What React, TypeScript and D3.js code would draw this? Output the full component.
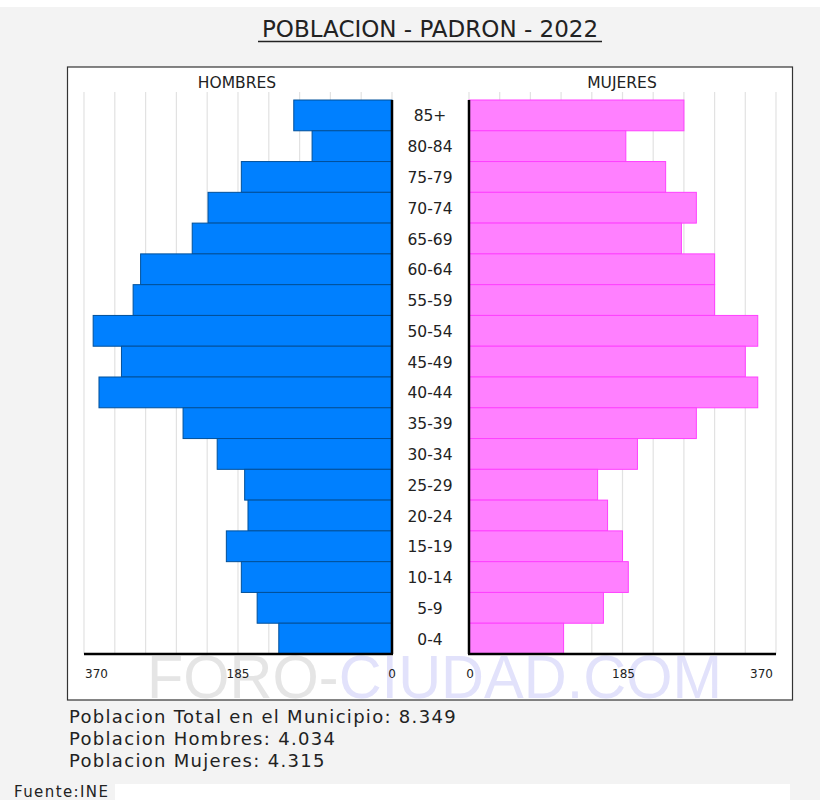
import * as d3 from "d3";

const ages = ["85+", "80-84", "75-79", "70-74", "65-69", "60-64", "55-59", "50-54", "45-49", "40-44", "35-39", "30-34", "25-29", "20-24", "15-19", "10-14", "5-9", "0-4"];
const hombres = [118, 96, 181, 221, 240, 302, 311, 359, 325, 352, 251, 210, 177, 173, 199, 181, 162, 136];
const mujeres = [259, 189, 237, 274, 256, 296, 296, 348, 333, 348, 274, 203, 155, 167, 185, 192, 162, 114];
const axisTicks = [0, 185, 370];
const gridTicks = [0, 37, 74, 111, 148, 185, 222, 259, 296, 333, 370];
const summary = [
  "Poblacion Total en el Municipio: 8.349",
  "Poblacion Hombres: 4.034",
  "Poblacion Mujeres: 4.315",
];

const W = 820;
const H = 800;
const font = "'DejaVu Sans', Verdana, sans-serif";

export default function App() {
  const y = d3.scaleBand().domain(ages).range([100, 654]).padding(0);
  const xM = d3.scaleLinear().domain([0, 370]).range([392, 84]);
  const xW = d3.scaleLinear().domain([0, 370]).range([469, 776]);
  const bottom = 654;

  return (
    <svg width={W} height={H} style={{ position: "absolute", left: 0, top: 0 }}>
      <rect x={0} y={0} width={W} height={H} fill="#f3f3f3" />
      <rect x={0} y={0} width={W} height={7} fill="#ffffff" />

      {/* title */}
      <text x={430} y={37} textAnchor="middle" fontFamily={font} fontSize={23} fill="#222">
        POBLACION - PADRON - 2022
      </text>
      <line x1={258} x2={602} y1={41.5} y2={41.5} stroke="#222" strokeWidth={1.6} />

      {/* chart box */}
      <rect x={67.5} y={67} width={725} height={633} fill="#ffffff" stroke="#333" strokeWidth={1.2} />

      {/* watermark */}
      <text x={147} y={698} fontFamily="'Liberation Sans', Arial, sans-serif" fontSize={62} textLength={575} lengthAdjust="spacingAndGlyphs">
        <tspan fill="#e5e5e5">FORO-</tspan>
        <tspan fill="#e2e2fb">CIUDAD.COM</tspan>
      </text>

      {/* grid */}
      {gridTicks.map((t) => (
        <g key={"g" + t}>
          <line x1={xM(t)} x2={xM(t)} y1={92} y2={bottom} stroke="#e2e2e2" strokeWidth={1.2} />
          <line x1={xW(t)} x2={xW(t)} y1={92} y2={bottom} stroke="#e2e2e2" strokeWidth={1.2} />
        </g>
      ))}

      <text x={237} y={88} textAnchor="middle" fontFamily={font} fontSize={15.5} fill="#222">HOMBRES</text>
      <text x={622} y={88} textAnchor="middle" fontFamily={font} fontSize={15.5} fill="#222">MUJERES</text>

      {/* bars */}
      {ages.map((a, i) => (
        <g key={a}>
          <rect
            x={xM(hombres[i])}
            y={y(a)!}
            width={xM(0) - xM(hombres[i])}
            height={y.bandwidth()}
            fill="#0080ff"
            stroke="#00509a"
            strokeWidth={1}
          />
          <rect
            x={xW(0)}
            y={y(a)!}
            width={xW(mujeres[i]) - xW(0)}
            height={y.bandwidth()}
            fill="#ff80ff"
            stroke="#ff40ff"
            strokeWidth={1}
          />
          <text
            x={430}
            y={y(a)! + y.bandwidth() / 2 + 6}
            textAnchor="middle"
            fontFamily={font}
            fontSize={15.5}
            fill="#222"
          >
            {a}
          </text>
        </g>
      ))}

      {/* axes */}
      <line x1={xM(0)} x2={xM(0)} y1={100} y2={bottom} stroke="#000" strokeWidth={2.5} />
      <line x1={xW(0)} x2={xW(0)} y1={100} y2={bottom} stroke="#000" strokeWidth={2.5} />
      <line x1={xM(370)} x2={xM(0) + 1} y1={bottom} y2={bottom} stroke="#000" strokeWidth={2.5} />
      <line x1={xW(0) - 1} x2={xW(370)} y1={bottom} y2={bottom} stroke="#000" strokeWidth={2.5} />

      {axisTicks.map((t) => (
        <g key={"t" + t}>
          <text
            x={t === 370 ? xM(t) + 1 : xM(t)}
            y={678}
            textAnchor={t === 370 ? "start" : "middle"}
            fontFamily={font}
            fontSize={12}
            fill="#222"
          >
            {t}
          </text>
          <text
            x={t === 370 ? xW(t) - 3 : xW(t) + 1}
            y={678}
            textAnchor={t === 370 ? "end" : "middle"}
            fontFamily={font}
            fontSize={12}
            fill="#222"
          >
            {t}
          </text>
        </g>
      ))}

      {/* summary */}
      {summary.map((s, i) => (
        <text key={s} x={69} y={723 + i * 22} fontFamily={font} fontSize={18} letterSpacing={1.3} fill="#222">
          {s}
        </text>
      ))}

      <rect x={115} y={784} width={675} height={16} fill="#ffffff" />
      <text x={14} y={797} fontFamily={font} fontSize={15} letterSpacing={1.4} fill="#222">Fuente:INE</text>
    </svg>
  );
}
